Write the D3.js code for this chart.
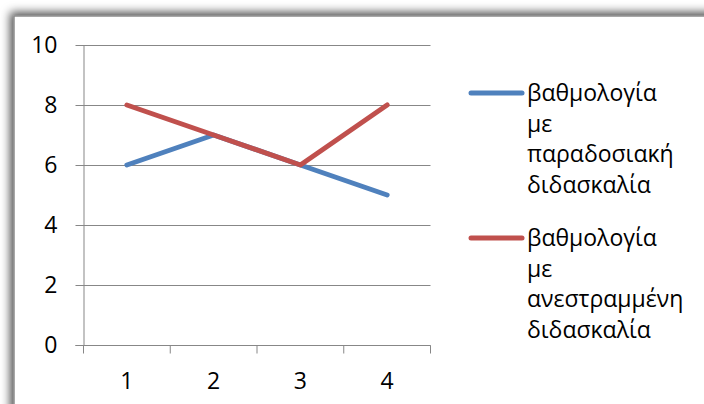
<!DOCTYPE html>
<html>
<head>
<meta charset="utf-8">
<script src="https://cdn.jsdelivr.net/npm/d3@7"></script>
<style>
  html, body { margin: 0; padding: 0; background: #fff; overflow: hidden; }
  svg { display: block; }
  text { font-family: "Open Sans", "Liberation Sans", Arial, sans-serif; fill: #000; }
</style>
</head>
<body>
<svg id="chart" width="704" height="404"></svg>
<script>
// Categories on the x axis and the two series of grades
const categories = ["1", "2", "3", "4"];
const traditional = [6, 7, 6, 5];
const flipped = [8, 7, 6, 8];
const yTicks = [0, 2, 4, 6, 8, 10];
const seriesNames = [
  ["βαθμολογία", "με", "παραδοσιακή", "διδασκαλία"],
  ["βαθμολογία", "με", "ανεστραμμένη", "διδασκαλία"]
];
const seriesColors = ["#4F81BD", "#C0504D"];

const svg = d3.select("#chart");
const fontFamily = "'Open Sans', 'Liberation Sans', Arial, sans-serif";
const fontSize = 23;

// Outer chart frame with a soft shadow on its top-left edges
const defs = svg.append("defs");
const f = defs.append("filter").attr("id", "shadow")
  .attr("x", "-10%").attr("y", "-10%").attr("width", "120%").attr("height", "120%");
f.append("feDropShadow").attr("dx", -3).attr("dy", -3)
  .attr("stdDeviation", 5).attr("flood-color", "#000").attr("flood-opacity", 0.7);

svg.append("rect")
  .attr("x", 14).attr("y", 16).attr("width", 760).attr("height", 460)
  .attr("fill", "#fff").attr("stroke", "#8c8c8c").attr("stroke-width", 1.5)
  .attr("filter", "url(#shadow)");

const plot = { left: 83.5, right: 430.5, top: 45, bottom: 345 };

const x = d3.scaleBand().domain(categories).range([plot.left, plot.right]).padding(0);
const y = d3.scaleLinear().domain([0, 10]).range([plot.bottom, plot.top]);

// Horizontal gridlines
svg.append("g").selectAll("line").data(yTicks).join("line")
  .attr("x1", plot.left - 8).attr("x2", plot.right)
  .attr("y1", d => Math.round(y(d)) + 0.5).attr("y2", d => Math.round(y(d)) + 0.5)
  .attr("stroke", "#878787").attr("stroke-width", 1);

// Y axis
const yAxis = svg.append("g")
  .attr("transform", `translate(${plot.left},0)`)
  .call(d3.axisLeft(y).tickValues(yTicks).tickSize(0).tickPadding(26));
yAxis.select(".domain").attr("stroke", "#878787");
yAxis.selectAll("text").style("font-size", fontSize + "px")
  .style("font-family", fontFamily).attr("fill", "#000");

// X axis with ticks at category boundaries
const xAxisG = svg.append("g").attr("transform", `translate(0,${Math.round(y(0)) + 0.5})`);
xAxisG.append("line").attr("x1", plot.left - 8).attr("x2", plot.right)
  .attr("stroke", "#878787");
const boundaries = [plot.left].concat(categories.map(c => x(c) + x.bandwidth()));
xAxisG.selectAll("line.tick").data(boundaries).join("line").attr("class", "tick")
  .attr("x1", d => d).attr("x2", d => d).attr("y1", 0).attr("y2", 8)
  .attr("stroke", "#878787");
xAxisG.selectAll("text").data(categories).join("text")
  .attr("x", d => x(d) + x.bandwidth() / 2)
  .attr("y", 35)
  .attr("dy", "0.35em")
  .attr("text-anchor", "middle")
  .style("font-size", fontSize + "px")
  .text(d => d);

// Series lines
const line = d3.line()
  .x((d, i) => x(categories[i]) + x.bandwidth() / 2)
  .y(d => y(d));

[traditional, flipped].forEach((s, i) => {
  svg.append("path").datum(s)
    .attr("d", line)
    .attr("fill", "none")
    .attr("stroke", seriesColors[i])
    .attr("stroke-width", 5)
    .attr("stroke-linecap", "round")
    .attr("stroke-linejoin", "round");
});

// Legend
const legendTop = [93, 238];
const lineHeight = 30.5;
seriesNames.forEach((lines, i) => {
  const g = svg.append("g");
  g.append("line")
    .attr("x1", 471).attr("x2", 522)
    .attr("y1", legendTop[i]).attr("y2", legendTop[i])
    .attr("stroke", seriesColors[i]).attr("stroke-width", 5)
    .attr("stroke-linecap", "round");
  g.selectAll("text").data(lines).join("text")
    .attr("x", 527)
    .attr("y", (d, j) => legendTop[i] + j * lineHeight)
    .attr("dy", "0.35em")
    .style("font-size", fontSize + "px")
    .text(d => d);
});
</script>
</body>
</html>
